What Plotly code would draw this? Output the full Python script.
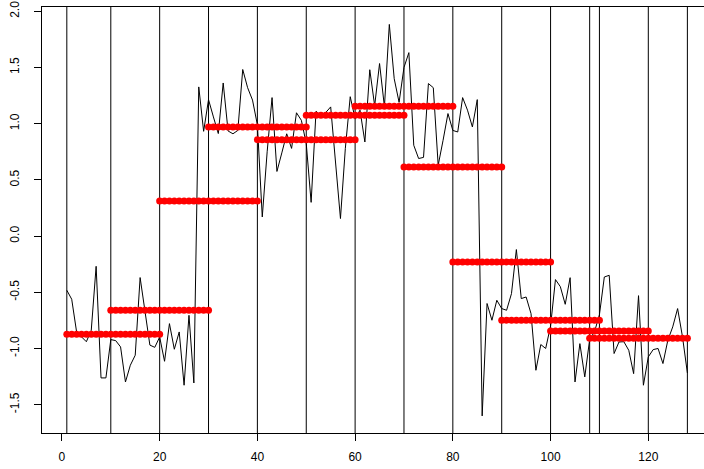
import plotly.graph_objects as go

# Series values (x = 1..128)
series_y = [
    -0.482, -0.562, -0.853, -0.900, -0.940, -0.838, -0.269, -1.262, -1.262, -0.921,
    -0.930, -0.986, -1.298, -1.149, -1.060, -0.369, -0.660, -0.970, -0.990, -0.898,
    -1.114, -0.779, -1.007, -0.853, -1.327, -0.705, -1.307, 1.327, 0.932, 1.214,
    1.060, 0.912, 1.362, 0.935, 0.910, 0.940, 1.482, 1.320, 1.210, 0.990,
    0.170, 0.750, 1.232, 0.575, 0.740, 0.910, 0.780, 1.097, 1.030, 0.823,
    0.300, 1.110, 1.075, 1.100, 1.149, 0.650, 0.156, 0.780, 1.240, 1.045,
    1.120, 0.837, 1.480, 1.160, 1.535, 1.150, 1.883, 1.400, 1.190, 1.500,
    1.632, 0.808, 0.690, 0.700, 1.357, 1.320, 0.630, 0.852, 1.090, 0.940,
    0.926, 1.232, 1.120, 0.971, 1.214, -1.600, -0.600, -0.749, -0.571, -0.645,
    -0.660, -0.512, -0.120, -0.556, -0.542, -0.690, -1.194, -0.965, -1.000, -0.800,
    -0.387, -0.450, -0.607, -0.370, -1.298, -0.957, -1.253, -0.920, -0.850, -0.700,
    -0.364, -0.349, -1.045, -0.942, -0.940, -1.016, -1.224, -0.530, -1.327, -1.075,
    -1.010, -1.000, -1.134, -0.927, -0.808, -0.645, -0.897, -1.218,
]
series_x = list(range(1, len(series_y) + 1))

# Window segments (red dotted means)
seg_start = [1, 10, 20, 30, 40, 50, 60, 70, 80, 90, 100, 108]
seg_end = [20, 30, 40, 50, 60, 70, 80, 90, 100, 110, 120, 128]
seg_level = [-0.874, -0.660, 0.312, 0.971, 0.858, 1.075, 1.155, 0.615, -0.230, -0.749, -0.844, -0.909]

# Vertical break lines
breaks = [1, 10, 20, 30, 40, 50, 60, 70, 80, 90, 100, 108, 110, 120, 128]

x_ticks = [0, 20, 40, 60, 80, 100, 120]
y_ticks = [-1.5, -1.0, -0.5, 0.0, 0.5, 1.0, 1.5, 2.0]
y_ticktext = ["-1.5", "-1.0", "-0.5", "0.0", "0.5", "1.0", "1.5", "2.0"]

fig = go.Figure()

fig.add_trace(go.Scatter(x=series_x, y=series_y, mode="lines",
                         line=dict(color="black", width=1), hoverinfo="skip"))

dx, dy = [], []
for s, e, lv in zip(seg_start, seg_end, seg_level):
    for xi in range(s, e + 1):
        dx.append(xi)
        dy.append(lv)
fig.add_trace(go.Scatter(x=dx, y=dy, mode="markers",
                         marker=dict(color="#FF0000", size=7, line=dict(width=0))))

for b in breaks:
    fig.add_shape(type="line", xref="x", yref="paper", x0=b, x1=b, y0=0, y1=1,
                  line=dict(color="black", width=1), layer="below")

fig.update_layout(
    width=704, height=469,
    margin=dict(l=42, r=0, t=7, b=36),
    paper_bgcolor="white", plot_bgcolor="white",
    showlegend=False,
    font=dict(family="Liberation Sans, Arial, sans-serif", size=12, color="black"),
    xaxis=dict(range=[-4.08, 131.4], tickvals=x_ticks, ticks="outside", ticklen=7,
               tickcolor="black", showgrid=False, zeroline=False,
               ticklabelstandoff=6,
               showline=True, linecolor="black", linewidth=1, mirror=True),
    yaxis=dict(range=[-1.752, 2.038], tickvals=y_ticks, ticktext=y_ticktext,
               tickangle=-90, ticks="outside", ticklen=7, tickcolor="black",
               showgrid=False, zeroline=False, ticklabelstandoff=10,
               showline=True, linecolor="black", linewidth=1),
)

fig.write_html("out.html")
